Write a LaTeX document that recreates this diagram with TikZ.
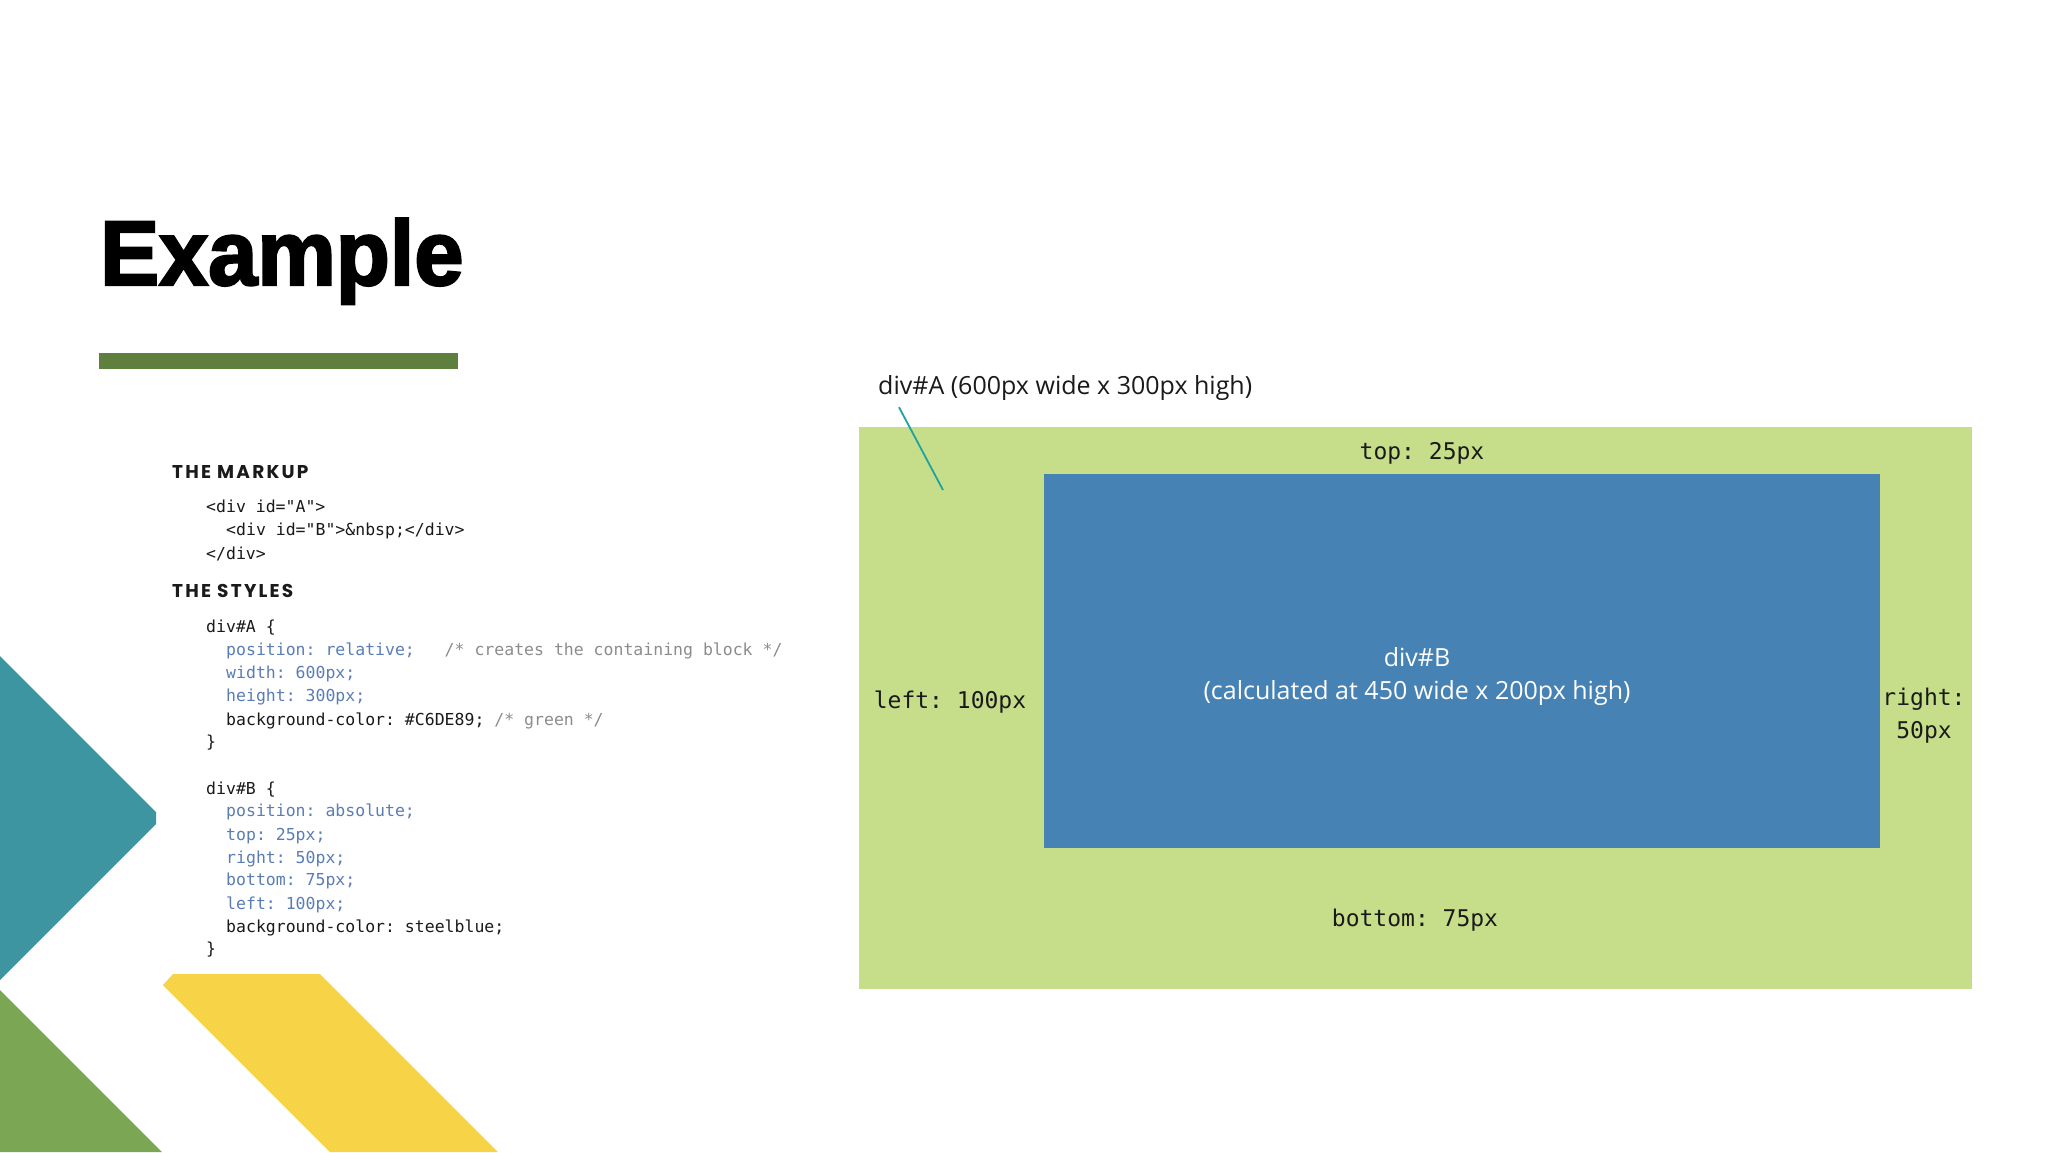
\documentclass[tikz,border=0pt]{standalone}
\usepackage{fontspec}
\usepackage{xcolor}
\setmainfont{Open Sans}
\setmonofont{DejaVu Sans Mono}
\newfontfamily\titlefont{Liberation Sans}[BoldFeatures={FakeBold=2.5,FakeStretch=0.96}]
\newfontfamily\headfont{Poppins}[LetterSpace=12]
\usetikzlibrary{positioning}

\definecolor{barcol}{HTML}{5E7F3E}
\definecolor{tealcol}{HTML}{3E95A2}
\definecolor{leafcol}{HTML}{7BA653}
\definecolor{sunny}{HTML}{F7D348}
\definecolor{boxA}{HTML}{C6DE89}
\definecolor{boxB}{HTML}{4682B4}
\definecolor{leadcol}{HTML}{1FA3A0}
\definecolor{codeblue}{HTML}{5A7DB5}
\definecolor{codegrey}{HTML}{8C8C8C}
\definecolor{codeblack}{HTML}{1A1A1A}

\begin{document}
\begin{tikzpicture}
[x=1pt,y=-1pt,every node/.style={inner sep=0pt},
 code/.style={anchor=base west,font=\fontsize{16.5}{16.5}\ttfamily,text=codeblack},
 prop/.style={code,text=codeblue},
 head/.style={anchor=base west,font=\fontsize{18.5}{18.5}\headfont\bfseries,text=codeblack},
 lab/.style={anchor=base,font=\fontsize{23}{33}\ttfamily,text=codeblack},
 leader/.style={draw=leadcol,line width=1.8pt}]
   \fill[white] (0,0) rectangle (2048,1152);
   \useasboundingbox (0,0) rectangle (2048,1152);
   % corner shapes
   \fill[tealcol] (0,656) -- (156,812) -- (156,824) -- (0,980) -- cycle;
   \fill[leafcol] (0,990) -- (162,1152) -- (0,1152) -- cycle;
   \fill[sunny] (163,985) -- (173,974) -- (320,974) -- (498,1152) -- (330,1152) -- cycle;
   % title
   \node[anchor=base west] (title) at (100,285) {\fontsize{92}{92}\titlefont\bfseries Example};
   \fill[barcol] (99,353) rectangle (458,369);
   % markup
   \node[head] (mhead) at (172,478) {THE MARKUP};
   \node[code] (m1) at (206,512) {<div id="A">};
   \node[code] (m2) at (226,535) {<div id="B">\&nbsp;</div>};
   \node[code] (m3) at (206,559) {</div>};
   % styles
   \node[head] (shead) at (172,597) {THE STYLES};
   \node[code] (a0) at (206,632) {div\#A \{};
   \node[prop] (a1) at (226,655) {position: relative;~~~{\color{codegrey}/* creates the containing block */}};
   \node[prop] (a2) at (226,678) {width: 600px;};
   \node[prop] (a3) at (226,701) {height: 300px;};
   \node[code] (a4) at (226,725) {background-color: \#C6DE89; {\color{codegrey}/* green */}};
   \node[code] (a5) at (206,747) {\}};
   \node[code] (b0) at (206,794) {div\#B \{};
   \node[prop] (b1) at (226,816) {position: absolute;};
   \node[prop] (b2) at (226,840) {top: 25px;};
   \node[prop] (b3) at (226,863) {right: 50px;};
   \node[prop] (b4) at (226,885) {bottom: 75px;};
   \node[prop] (b5) at (226,909) {left: 100px;};
   \node[code] (b6) at (226,932) {background-color: steelblue;};
   \node[code] (b7) at (206,954) {\}};
   % the boxes
   \node[fill=boxA,minimum width=1113pt,minimum height=562pt] (divA) at (1415.5,708) {};
   \node[fill=boxB,minimum width=836pt,minimum height=374pt] (divB) at (1462,661) {};
   \node[align=center,text=white,font=\fontsize{25}{33}\selectfont] (txtB) at (1417,676)
      {div\#B\\(calculated at 450 wide x 200px high)};
   \node[anchor=base west,text=codeblack,font=\fontsize{25}{25}\selectfont] (labA) at (878,394)
      {div\#A (600px wide x 300px high)};
   \coordinate (tip) at (943,490);
   \draw[leader] ([shift={(21,7)}]labA.south west) -- (tip);
   \node[lab] (top) at (1422,459) {top: 25px};
   \node[lab] (left) at (950,708) {left: 100px};
   \node[lab,anchor=center,align=center] (right) at (1924,716) {right:\\50px};
   \node[lab] (bottom) at (1415,926) {bottom: 75px};
\end{tikzpicture}
\end{document}
